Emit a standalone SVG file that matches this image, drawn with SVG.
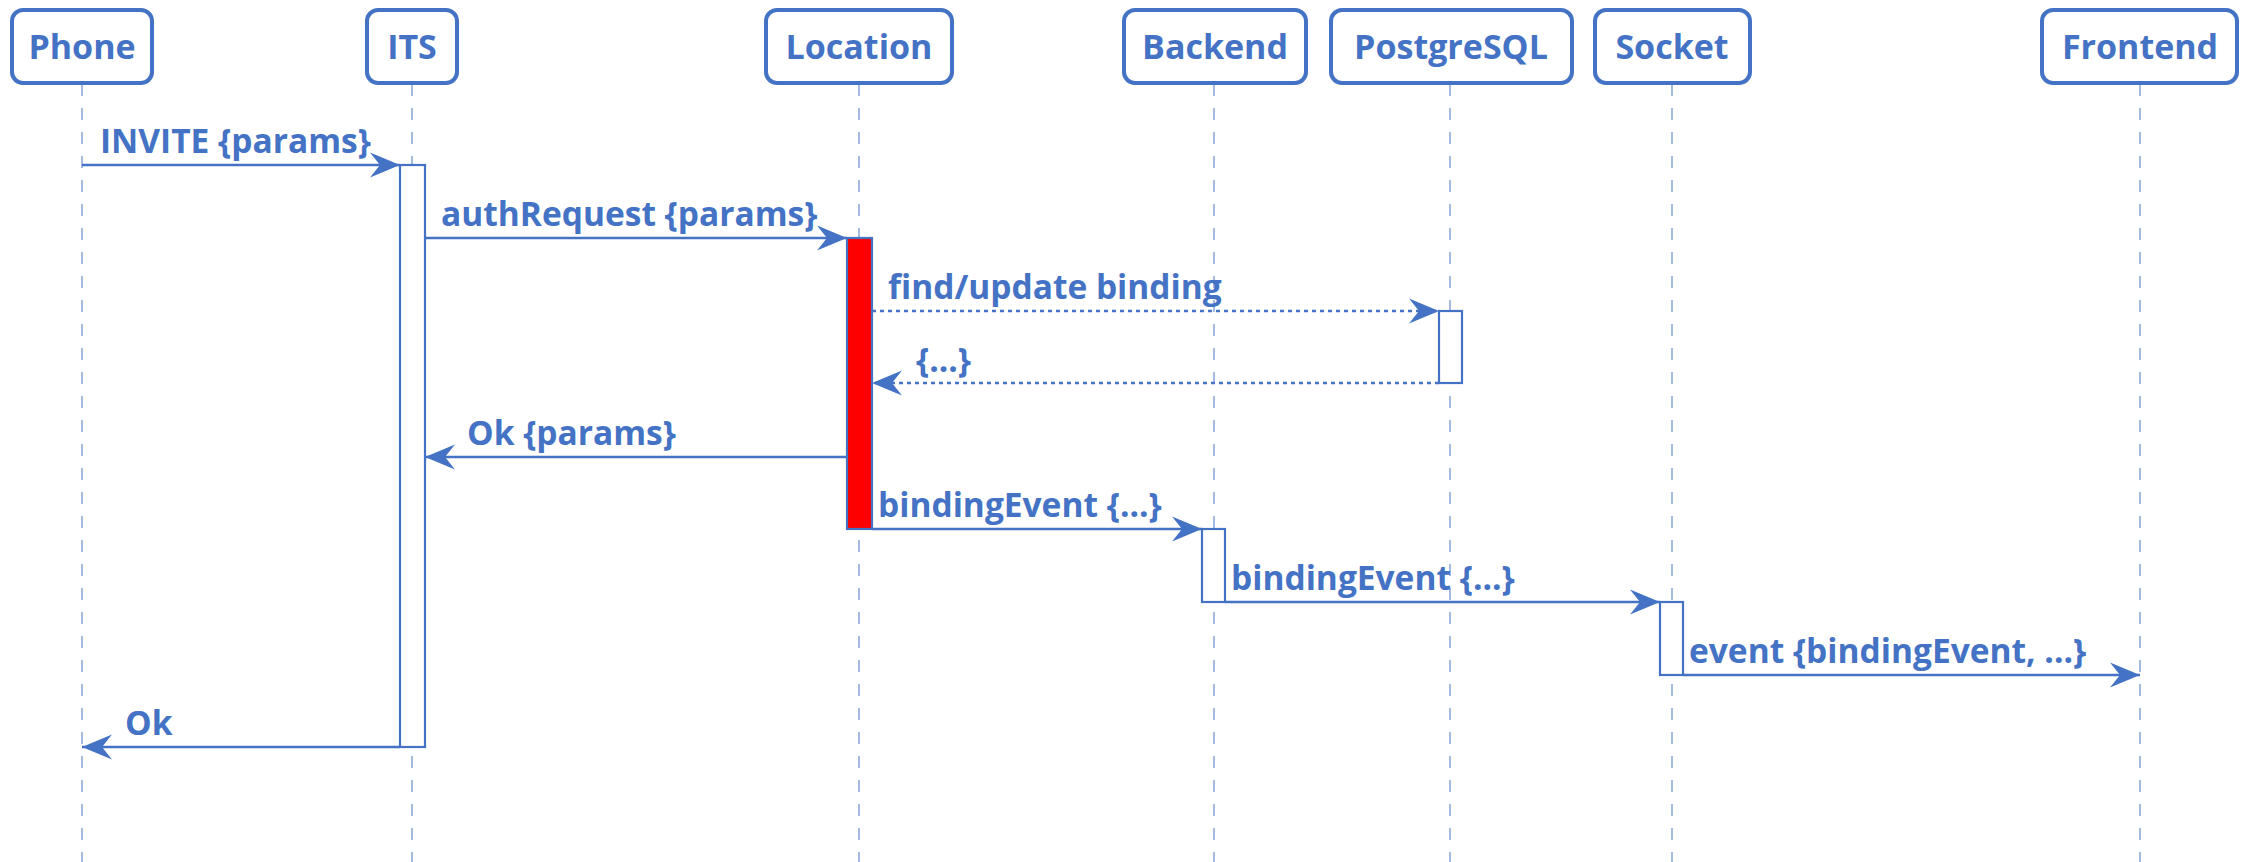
<svg xmlns="http://www.w3.org/2000/svg" width="2252" height="862" viewBox="0 0 2252 862">
<style>
.box{fill:#fff;stroke:#4472C4;stroke-width:4}
.lbl{font-family:"Open Sans","Liberation Sans",sans-serif;font-weight:700;font-size:34px;fill:#4472C4}
.life{stroke:#8EAADB;stroke-width:1.6;stroke-dasharray:12 12;fill:none}
.act{fill:#fff;stroke:#4472C4;stroke-width:2.2}
.msg{stroke:#4472C4;stroke-width:2.4;fill:none}
.dot{stroke-dasharray:4 4}
.mt{font-family:"Open Sans","Liberation Sans",sans-serif;font-weight:700;font-size:33.5px;fill:#4472C4}
</style>
<defs>
<marker id="ah" viewBox="0 0 30 26" refX="30" refY="13" markerWidth="30" markerHeight="26" markerUnits="userSpaceOnUse" orient="auto">
<path d="M0,0.5 L30,13 L0,25.5 L10,13 Z" fill="#4472C4"/>
</marker>
</defs>
<rect width="2252" height="862" fill="#fff"/>
<g id="lifelines">
<line class="life" x1="82" y1="84" x2="82" y2="862"/>
<line class="life" x1="412" y1="84" x2="412" y2="862"/>
<line class="life" x1="859" y1="84" x2="859" y2="862"/>
<line class="life" x1="1214" y1="84" x2="1214" y2="862"/>
<line class="life" x1="1450" y1="84" x2="1450" y2="862"/>
<line class="life" x1="1672" y1="84" x2="1672" y2="862"/>
<line class="life" x1="2140" y1="84" x2="2140" y2="862"/>
</g>
<g id="Phone"><rect class="box" x="12" y="10" width="140" height="73" rx="11"/><text class="lbl" x="82" y="59" text-anchor="middle">Phone</text></g>
<g id="ITS"><rect class="box" x="367" y="10" width="90" height="73" rx="11"/><text class="lbl" x="412" y="59" text-anchor="middle">ITS</text></g>
<g id="Location"><rect class="box" x="766" y="10" width="186" height="73" rx="11"/><text class="lbl" x="859" y="59" text-anchor="middle">Location</text></g>
<g id="Backend"><rect class="box" x="1124" y="10" width="182" height="73" rx="11"/><text class="lbl" x="1215" y="59" text-anchor="middle">Backend</text></g>
<g id="PostgreSQL"><rect class="box" x="1331" y="10" width="241" height="73" rx="11"/><text class="lbl" x="1451" y="59" text-anchor="middle">PostgreSQL</text></g>
<g id="Socket"><rect class="box" x="1595" y="10" width="155" height="73" rx="11"/><text class="lbl" x="1672" y="59" text-anchor="middle">Socket</text></g>
<g id="Frontend"><rect class="box" x="2042" y="10" width="195" height="73" rx="11"/><text class="lbl" x="2140" y="59" text-anchor="middle">Frontend</text></g>
<g id="activations">
<rect class="act" x="400" y="165" width="25" height="582"/>
<rect x="847" y="238" width="25" height="291" fill="#FF0000" stroke="#4472C4" stroke-width="2.2"/>
<rect class="act" x="1439" y="311" width="23" height="72"/>
<rect class="act" x="1202" y="529" width="23" height="73"/>
<rect class="act" x="1660" y="602" width="23" height="73"/>
</g>
<g id="connectors">
<line class="msg" x1="82" y1="165" x2="400" y2="165" marker-end="url(#ah)"/>
<line class="msg" x1="425" y1="238" x2="847" y2="238" marker-end="url(#ah)"/>
<line class="msg dot" x1="872" y1="311" x2="1439" y2="311" marker-end="url(#ah)"/>
<line class="msg dot" x1="1439" y1="383" x2="872" y2="383" marker-end="url(#ah)"/>
<line class="msg" x1="847" y1="457" x2="425" y2="457" marker-end="url(#ah)"/>
<line class="msg" x1="872" y1="529" x2="1202" y2="529" marker-end="url(#ah)"/>
<line class="msg" x1="1225" y1="602" x2="1660" y2="602" marker-end="url(#ah)"/>
<line class="msg" x1="1683" y1="675" x2="2140" y2="675" marker-end="url(#ah)"/>
<line class="msg" x1="400" y1="747" x2="82" y2="747" marker-end="url(#ah)"/>
</g>
<g id="labels">
<text class="mt" x="100" y="153">INVITE {params}</text>
<text class="mt" x="441" y="226">authRequest {params}</text>
<text class="mt" x="888" y="299">find/update binding</text>
<text class="mt" x="916" y="372">{...}</text>
<text class="mt" x="467" y="445">Ok {params}</text>
<text class="mt" x="878" y="517">bindingEvent {...}</text>
<text class="mt" x="1231" y="590">bindingEvent {...}</text>
<text class="mt" x="1689" y="663">event {bindingEvent, ...}</text>
<text class="mt" x="125" y="735">Ok</text>
</g>
</svg>
